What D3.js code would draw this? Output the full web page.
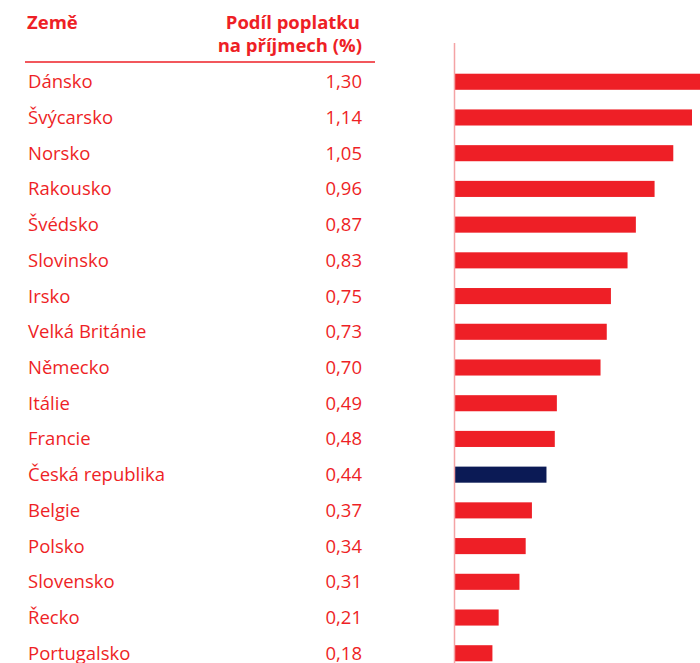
<!DOCTYPE html>
<html>
<head>
<meta charset="utf-8">
<script src="https://cdn.jsdelivr.net/npm/d3@7"></script>
<style>
  body { margin: 0; background: #fff; }
  svg text { font-family: "Open Sans", sans-serif; }
</style>
</head>
<body>
<div id="chart"></div>
<script>
var countries = ["Dánsko", "Švýcarsko", "Norsko", "Rakousko", "Švédsko", "Slovinsko", "Irsko",
  "Velká Británie", "Německo", "Itálie", "Francie", "Česká republika", "Belgie", "Polsko",
  "Slovensko", "Řecko", "Portugalsko"]
var shares = [1.30, 1.14, 1.05, 0.96, 0.87, 0.83, 0.75, 0.73, 0.70, 0.49, 0.48, 0.44, 0.37, 0.34, 0.31, 0.21, 0.18]
var highlight = "Česká republika"

var red = "#ee1f26", navy = "#0b1a55"

var svg = d3.select("#chart").append("svg")
  .attr("width", 700)
  .attr("height", 663)

// header
svg.append("text").attr("x", 27).attr("y", 29)
  .attr("font-size", 18.5).attr("font-weight", "bold").attr("fill", red)
  .text("Země")
svg.append("text").attr("x", 360).attr("y", 29).attr("text-anchor", "end")
  .attr("font-size", 18.5).attr("font-weight", "bold").attr("fill", red)
  .text("Podíl poplatku")
svg.append("text").attr("x", 362).attr("y", 52).attr("text-anchor", "end")
  .attr("font-size", 18.5).attr("font-weight", "bold").attr("fill", red)
  .text("na příjmech (%)")
svg.append("line").attr("x1", 25).attr("x2", 375).attr("y1", 62).attr("y2", 62)
  .attr("stroke", red).attr("stroke-width", 1.3)

var y = d3.scaleBand().domain(countries).range([63, 672]).paddingInner(0.55).paddingOuter(0.3)
var x = d3.scaleLinear().domain([0, 1.14]).range([455, 692])

svg.selectAll(".name").data(countries).enter().append("text")
  .attr("x", 28).attr("y", function(d) { return y(d) + y.bandwidth() / 2 })
  .attr("dy", "0.35em").attr("font-size", 18.5).attr("fill", red)
  .text(function(d) { return d })

svg.selectAll(".val").data(shares).enter().append("text")
  .attr("x", 362).attr("y", function(d, i) { return y(countries[i]) + y.bandwidth() / 2 })
  .attr("dy", "0.35em").attr("text-anchor", "end").attr("font-size", 18.5).attr("fill", red)
  .text(function(d) { return d3.format(".2f")(d).replace(".", ",") })

svg.selectAll(".bar").data(shares).enter().append("rect")
  .attr("x", x(0))
  .attr("y", function(d, i) { return y(countries[i]) })
  .attr("width", function(d) { return x(d) - x(0) })
  .attr("height", y.bandwidth())
  .attr("fill", function(d, i) { return countries[i] === highlight ? navy : red })

svg.append("line").attr("x1", x(0) - 0.5).attr("x2", x(0) - 0.5).attr("y1", 43).attr("y2", 663)
  .attr("stroke", "#f4a3a5").attr("stroke-width", 1.5)
</script>
</body>
</html>
